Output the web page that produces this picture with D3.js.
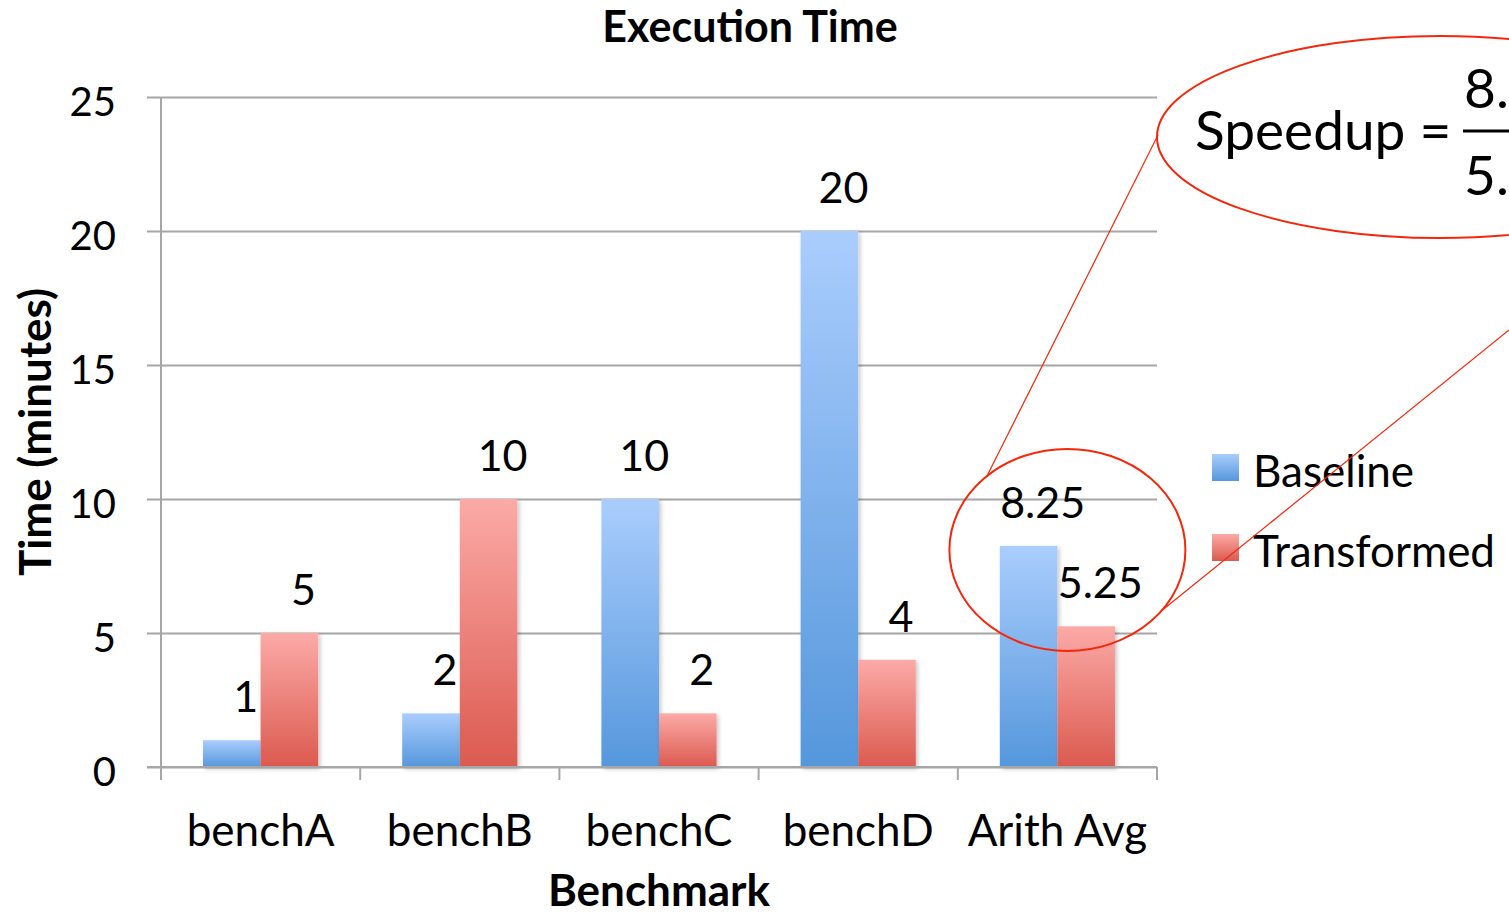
<!DOCTYPE html>
<html>
<head>
<meta charset="utf-8">
<script src="https://cdn.jsdelivr.net/npm/d3@7"></script>
<style>
  html, body { margin: 0; padding: 0; background: #fff; overflow: hidden; }
  svg { display: block; font-family: Lato, "Open Sans", sans-serif; }
</style>
</head>
<body>
<svg id="chart" width="1509" height="914"></svg>
<script>
const categories = ["benchA", "benchB", "benchC", "benchD", "Arith Avg"];
const seriesNames = ["Baseline", "Transformed"];
const baselineValues = [1, 2, 10, 20, 8.25];
const transformedValues = [5, 10, 2, 4, 5.25];
const yTicks = [0, 5, 10, 15, 20, 25];
const speedupNumerator = "8.25";
const speedupDenominator = "5.25";

const W = 1509, H = 914;
const margin = { left: 161, right: 352, top: 97, bottom: 147 };
const svg = d3.select("#chart");

const x0 = d3.scaleBand().domain(categories).range([margin.left, W - margin.right]).padding(0);
const x1 = d3.scaleBand().domain(seriesNames).range([0, x0.bandwidth()]).paddingInner(0).paddingOuter(0.73);
const y = d3.scaleLinear().domain([0, 25]).range([H - margin.bottom, margin.top]);

const defs = svg.append("defs");
const grads = {
  Baseline: ["#aacdfd", "#5597dc"],
  Transformed: ["#fcaaa7", "#db5a4f"]
};
Object.entries(grads).forEach(([k, c]) => {
  const g = defs.append("linearGradient").attr("id", "g-" + k)
    .attr("x1", 0).attr("y1", 0).attr("x2", 0).attr("y2", 1);
  g.append("stop").attr("offset", "0%").attr("stop-color", c[0]);
  g.append("stop").attr("offset", "100%").attr("stop-color", c[1]);
});
const f = defs.append("filter").attr("id", "shadow").attr("x", "-10%").attr("y", "-10%").attr("width", "130%").attr("height", "130%");
f.append("feDropShadow").attr("dx", 2).attr("dy", 2).attr("stdDeviation", 2).attr("flood-color", "#000").attr("flood-opacity", 0.22);

const axisColor = "#a6a6a6";
const x0px = margin.left, x1px = W - margin.right;

// gridlines (with left tick)
const yAxis = d3.axisLeft(y).tickValues(yTicks).tickSize(x1px - x0px + 14).tickFormat("");
const yg = svg.append("g").attr("transform", `translate(${x1px},0)`).call(yAxis);
yg.select(".domain").remove();
yg.selectAll(".tick line").attr("stroke", axisColor).attr("stroke-width", 2);

// y axis line
svg.append("line").attr("x1", x0px).attr("x2", x0px).attr("y1", y(25)).attr("y2", y(0) + 13)
  .attr("stroke", axisColor).attr("stroke-width", 2);

// x category ticks
const boundaries = categories.map(c => x0(c)).concat([x1px]);
svg.append("g").selectAll("line").data(boundaries).join("line")
  .attr("x1", d => d).attr("x2", d => d).attr("y1", y(0)).attr("y2", y(0) + 13)
  .attr("stroke", axisColor).attr("stroke-width", 2);

// y tick labels
svg.append("g").selectAll("text").data(yTicks).join("text")
  .attr("x", 116).attr("y", d => y(d) + 19)
  .attr("text-anchor", "end").attr("font-size", 40).attr("fill", "#000")
  .text(d => d);

// bars
const rows = categories.map((c, i) => ({ cat: c, vals: [
  { s: "Baseline", v: baselineValues[i] },
  { s: "Transformed", v: transformedValues[i] }
]}));
const groups = svg.append("g").selectAll("g").data(rows).join("g")
  .attr("transform", d => `translate(${x0(d.cat)},0)`);
groups.selectAll("rect").data(d => d.vals).join("rect")
  .attr("x", d => x1(d.s)).attr("width", x1.bandwidth())
  .attr("y", d => y(d.v)).attr("height", d => y(0) - y(d.v))
  .attr("fill", d => `url(#g-${d.s})`)
  .attr("filter", "url(#shadow)");
groups.selectAll("text").data(d => d.vals).join("text")
  .attr("x", d => x1(d.s) + x1.bandwidth() / 2 + 14)
  .attr("y", d => y(d.v) - 28)
  .attr("text-anchor", "middle").attr("font-size", 43).attr("fill", "#000")
  .text(d => d.v);

// x axis line
svg.append("line").attr("x1", x0px - 14).attr("x2", x1px).attr("y1", y(0)).attr("y2", y(0))
  .attr("stroke", axisColor).attr("stroke-width", 2);

// category labels
svg.append("g").selectAll("text").data(categories).join("text")
  .attr("x", d => x0(d) + x0.bandwidth() / 2).attr("y", 846)
  .attr("text-anchor", "middle").attr("font-size", 44).attr("fill", "#000")
  .text(d => d);

// titles
svg.append("text").attr("x", 750).attr("y", 42).attr("text-anchor", "middle")
  .attr("font-size", 43).attr("font-weight", "bold").text("Execution Time");
svg.append("text").attr("x", 659).attr("y", 906).attr("text-anchor", "middle")
  .attr("font-size", 44).attr("font-weight", "bold").text("Benchmark");
svg.append("text").attr("transform", `translate(51,${(y(0) + y(25)) / 2}) rotate(-90)`)
  .attr("text-anchor", "middle").attr("font-size", 44).attr("font-weight", "bold").text("Time (minutes)");

// legend
const leg = svg.append("g").attr("transform", "translate(1212,454)");
seriesNames.forEach((s, i) => {
  const g = leg.append("g").attr("transform", `translate(0,${i * 80})`);
  g.append("rect").attr("width", 27).attr("height", 27).attr("fill", `url(#g-${s})`);
  g.append("text").attr("x", 41).attr("y", 33).attr("font-size", 44).attr("fill", "#000").text(s);
});

// annotation: small ellipse around Arith Avg
const avgCx = x0("Arith Avg") + x0.bandwidth() / 2 + 10;
const avgCy = y(8.1);
svg.append("ellipse").attr("cx", avgCx).attr("cy", avgCy).attr("rx", 118).attr("ry", 101)
  .attr("fill", "none").attr("stroke", "#f5260a").attr("stroke-width", 2);

// big ellipse callout
svg.append("ellipse").attr("cx", 1440).attr("cy", 137).attr("rx", 283).attr("ry", 101)
  .attr("fill", "none").attr("stroke", "#f5260a").attr("stroke-width", 2);
svg.append("line").attr("x1", 987).attr("y1", 476).attr("x2", 1158).attr("y2", 135)
  .attr("stroke", "#f5260a").attr("stroke-width", 1.2);
svg.append("line").attr("x1", 1160).attr("y1", 612).attr("x2", 1540).attr("y2", 305)
  .attr("stroke", "#f5260a").attr("stroke-width", 1.2);

svg.append("text").attr("x", 1195).attr("y", 150).attr("font-size", 55).attr("fill", "#000").text("Speedup =");
svg.append("text").attr("x", 1464).attr("y", 108).attr("font-size", 55).attr("fill", "#000").text(speedupNumerator);
svg.append("line").attr("x1", 1463).attr("x2", 1560).attr("y1", 131).attr("y2", 131).attr("stroke", "#000").attr("stroke-width", 3);
svg.append("text").attr("x", 1464).attr("y", 195).attr("font-size", 55).attr("fill", "#000").text(speedupDenominator);
</script>
</body>
</html>
